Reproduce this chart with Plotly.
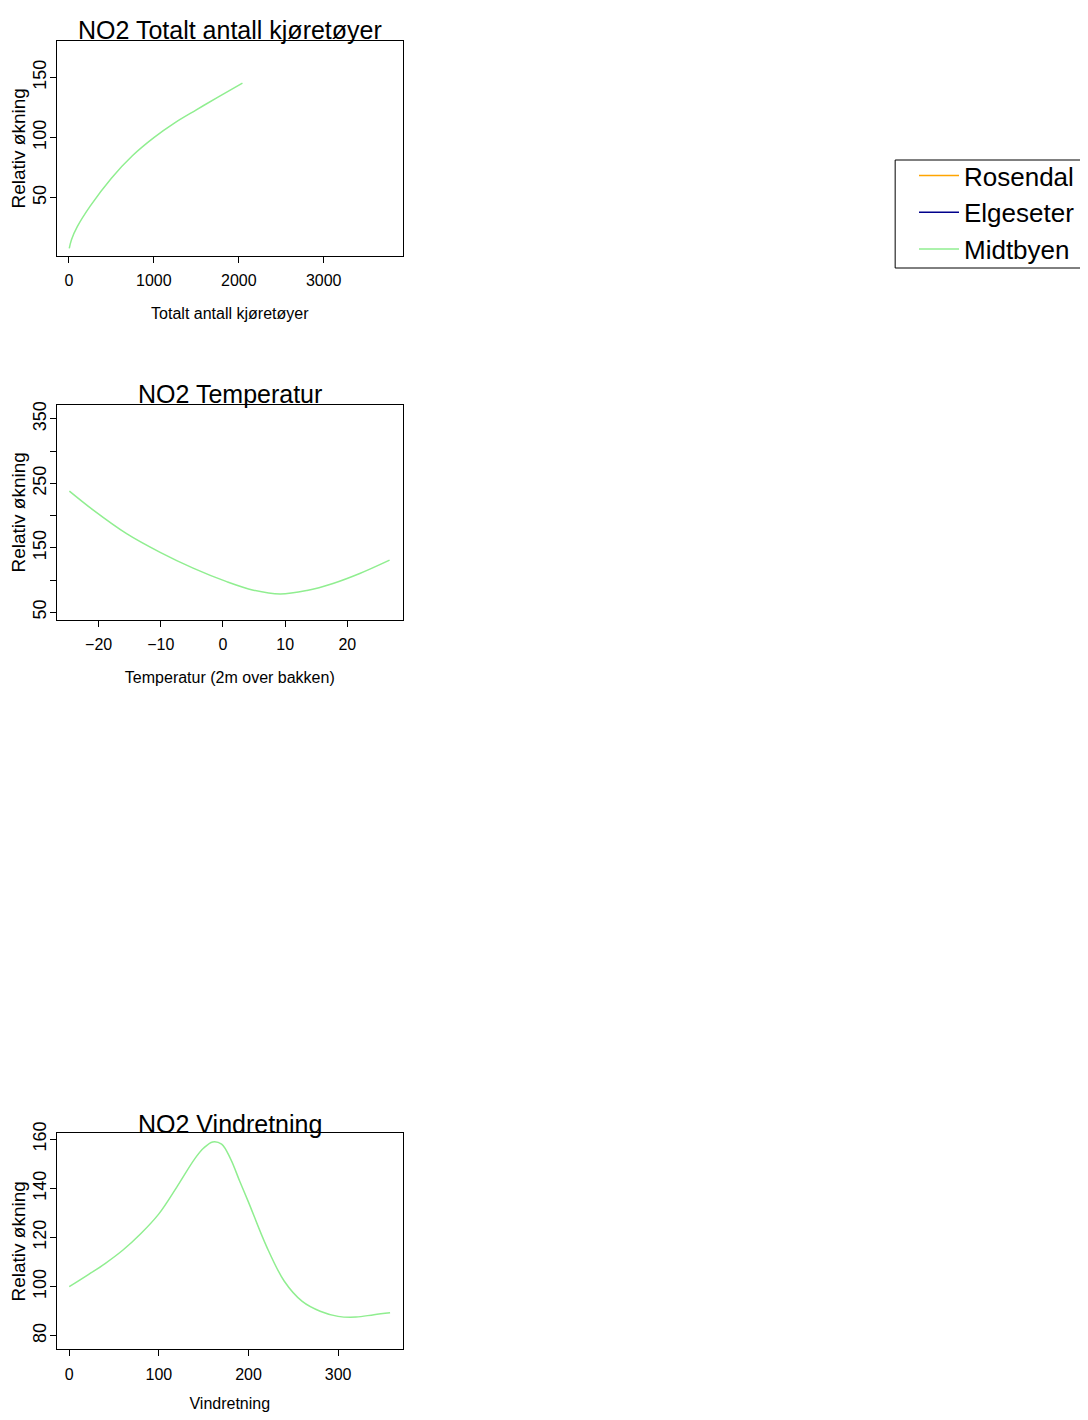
import plotly.graph_objects as go

# Page body has an 8px margin; figure is sized so that reference pixel coords map directly.
OFF = 8
W, H = 1088 - 2 * OFF, 1420 - 2 * OFF

# ---- data ----
vehicles_x = [4, 30, 100, 250, 500, 750, 1000, 1250, 1500, 1750, 2043]
vehicles_y = [7.8, 15, 26, 42.9, 66.2, 85.1, 100, 112.5, 123.1, 133.4, 145.3]

temp_x = [-24.7, -20.85, -15.5, -10.1, -4.8, 0.6, 4.9, 9.2, 13.5, 17.7, 22.0, 26.8]
temp_y = [238, 208.5, 172, 143, 118.5, 97.5, 84.3, 78.3, 83.8, 94.7, 110.2, 130.9]

wind_x = [0, 20, 40, 60, 80, 100, 120, 140, 150, 160, 170, 180, 190, 200,
          220, 240, 260, 280, 300, 320, 340, 358]
wind_y = [100, 104.6, 109.4, 114.9, 121.6, 129.6, 140.5, 152, 156.4, 158.9, 158.0, 152.0, 143.1, 134.4,
          116.5, 102.2, 94, 90, 87.9, 87.6, 88.6, 89.4]

series_names = ["Rosendal", "Elgeseter", "Midtbyen"]
series_colors = ["#FFA500", "#00008B", "#90EE90"]

titles = ["NO2 Totalt antall kjøretøyer", "NO2 Temperatur", "NO2 Vindretning"]
x_titles = ["Totalt antall kjøretøyer", "Temperatur (2m over bakken)", "Vindretning"]
y_title = "Relativ økning"

x1_ticks = [0, 1000, 2000, 3000]
y1_ticks = [50, 100, 150]
x2_ticks = [-20, -10, 0, 10, 20]
y2_ticks = [50, 100, 150, 200, 250, 300, 350]
y2_labels = ["50", "", "150", "", "250", "", "350"]
x3_ticks = [0, 100, 200, 300]
y3_ticks = [80, 100, 120, 140, 160]

FONT = "Liberation Sans, Arial, sans-serif"

def fx(px):
    return (px - OFF) / W

def fy(py):
    return 1 - (py - OFF) / H

fig = go.Figure()

# legend entries for stations that have no curve in view
for name, col in zip(series_names[:2], series_colors[:2]):
    fig.add_trace(go.Scatter(x=[None], y=[None], mode="lines", name=name,
                             line=dict(color=col, width=1.5), xaxis="x", yaxis="y"))

fig.add_trace(go.Scatter(x=vehicles_x, y=vehicles_y, mode="lines", name=series_names[2],
                         line=dict(color=series_colors[2], width=1.5, shape="spline"),
                         xaxis="x", yaxis="y"))
fig.add_trace(go.Scatter(x=temp_x, y=temp_y, mode="lines", showlegend=False,
                         line=dict(color=series_colors[2], width=1.5, shape="spline"),
                         xaxis="x2", yaxis="y2"))
fig.add_trace(go.Scatter(x=wind_x, y=wind_y, mode="lines", showlegend=False,
                         line=dict(color=series_colors[2], width=1.5, shape="spline"),
                         xaxis="x3", yaxis="y3"))

xdom = [fx(57), fx(403)]
boxes = [(40.7, 256), (404.7, 620), (1133.3, 1349.3)]
xranges = [[-141, 3929], [-26.7, 28.9], [-13.7, 372]]
yranges = [[1.4, 180.6], [38, 372], [74.5, 162.4]]
xticks = [x1_ticks, x2_ticks, x3_ticks]
yticks = [(y1_ticks, [str(v) for v in y1_ticks]), (y2_ticks, y2_labels),
          (y3_ticks, [str(v) for v in y3_ticks])]
title_centers = [30.5, 393.5, 1123.5]

layout = dict(
    width=W, height=H,
    margin=dict(l=0, r=0, t=0, b=0),
    paper_bgcolor="white", plot_bgcolor="white",
    showlegend=True,
    legend=dict(x=fx(915), y=fy(152), xanchor="left", yanchor="top",
                borderwidth=0, bgcolor="rgba(0,0,0,0)",
                font=dict(family=FONT, size=26, color="black"),
                itemwidth=40, tracegroupgap=0),
    # legend frame (runs off the right edge as in the reference)
    shapes=[dict(type="rect", xref="paper", yref="paper",
                 x0=fx(896), x1=fx(1120), y0=fy(268), y1=fy(160),
                 line=dict(color="black", width=1), layer="below")],
)

annotations = []
for i in range(3):
    sx = "" if i == 0 else str(i + 1)
    top, bot = boxes[i]
    layout["xaxis" + sx] = dict(
        domain=xdom, range=xranges[i], anchor="y" + sx,
        tickvals=xticks[i], ticks="outside", ticklen=6, tickcolor="black",
        showline=True, linecolor="black", linewidth=1, mirror=True,
        showgrid=False, zeroline=False,
        tickfont=dict(family=FONT, size=16, color="black"),
        ticklabelstandoff=4,
        title=dict(text=x_titles[i], font=dict(family=FONT, size=16, color="black"), standoff=19),
        automargin=False,
    )
    layout["yaxis" + sx] = dict(
        domain=[fy(bot), fy(top)], range=yranges[i], anchor="x" + sx,
        tickvals=yticks[i][0], ticktext=yticks[i][1], ticks="outside", ticklen=6,
        tickcolor="black", tickangle=-90,
        showline=True, linecolor="black", linewidth=1, mirror=True,
        showgrid=False, zeroline=False,
        tickfont=dict(family=FONT, size=18, color="black"),
        ticklabelstandoff=-3,
        title=dict(text=y_title, font=dict(family=FONT, size=19, color="black"), standoff=4),
        automargin=False,
    )
    annotations.append(dict(text=titles[i], x=fx(230), y=fy(title_centers[i]), xref="paper", yref="paper",
                            xanchor="center", yanchor="middle", showarrow=False,
                            font=dict(family=FONT, size=25, color="black")))

layout["annotations"] = annotations
fig.update_layout(**layout)
fig.write_html("out.html")
